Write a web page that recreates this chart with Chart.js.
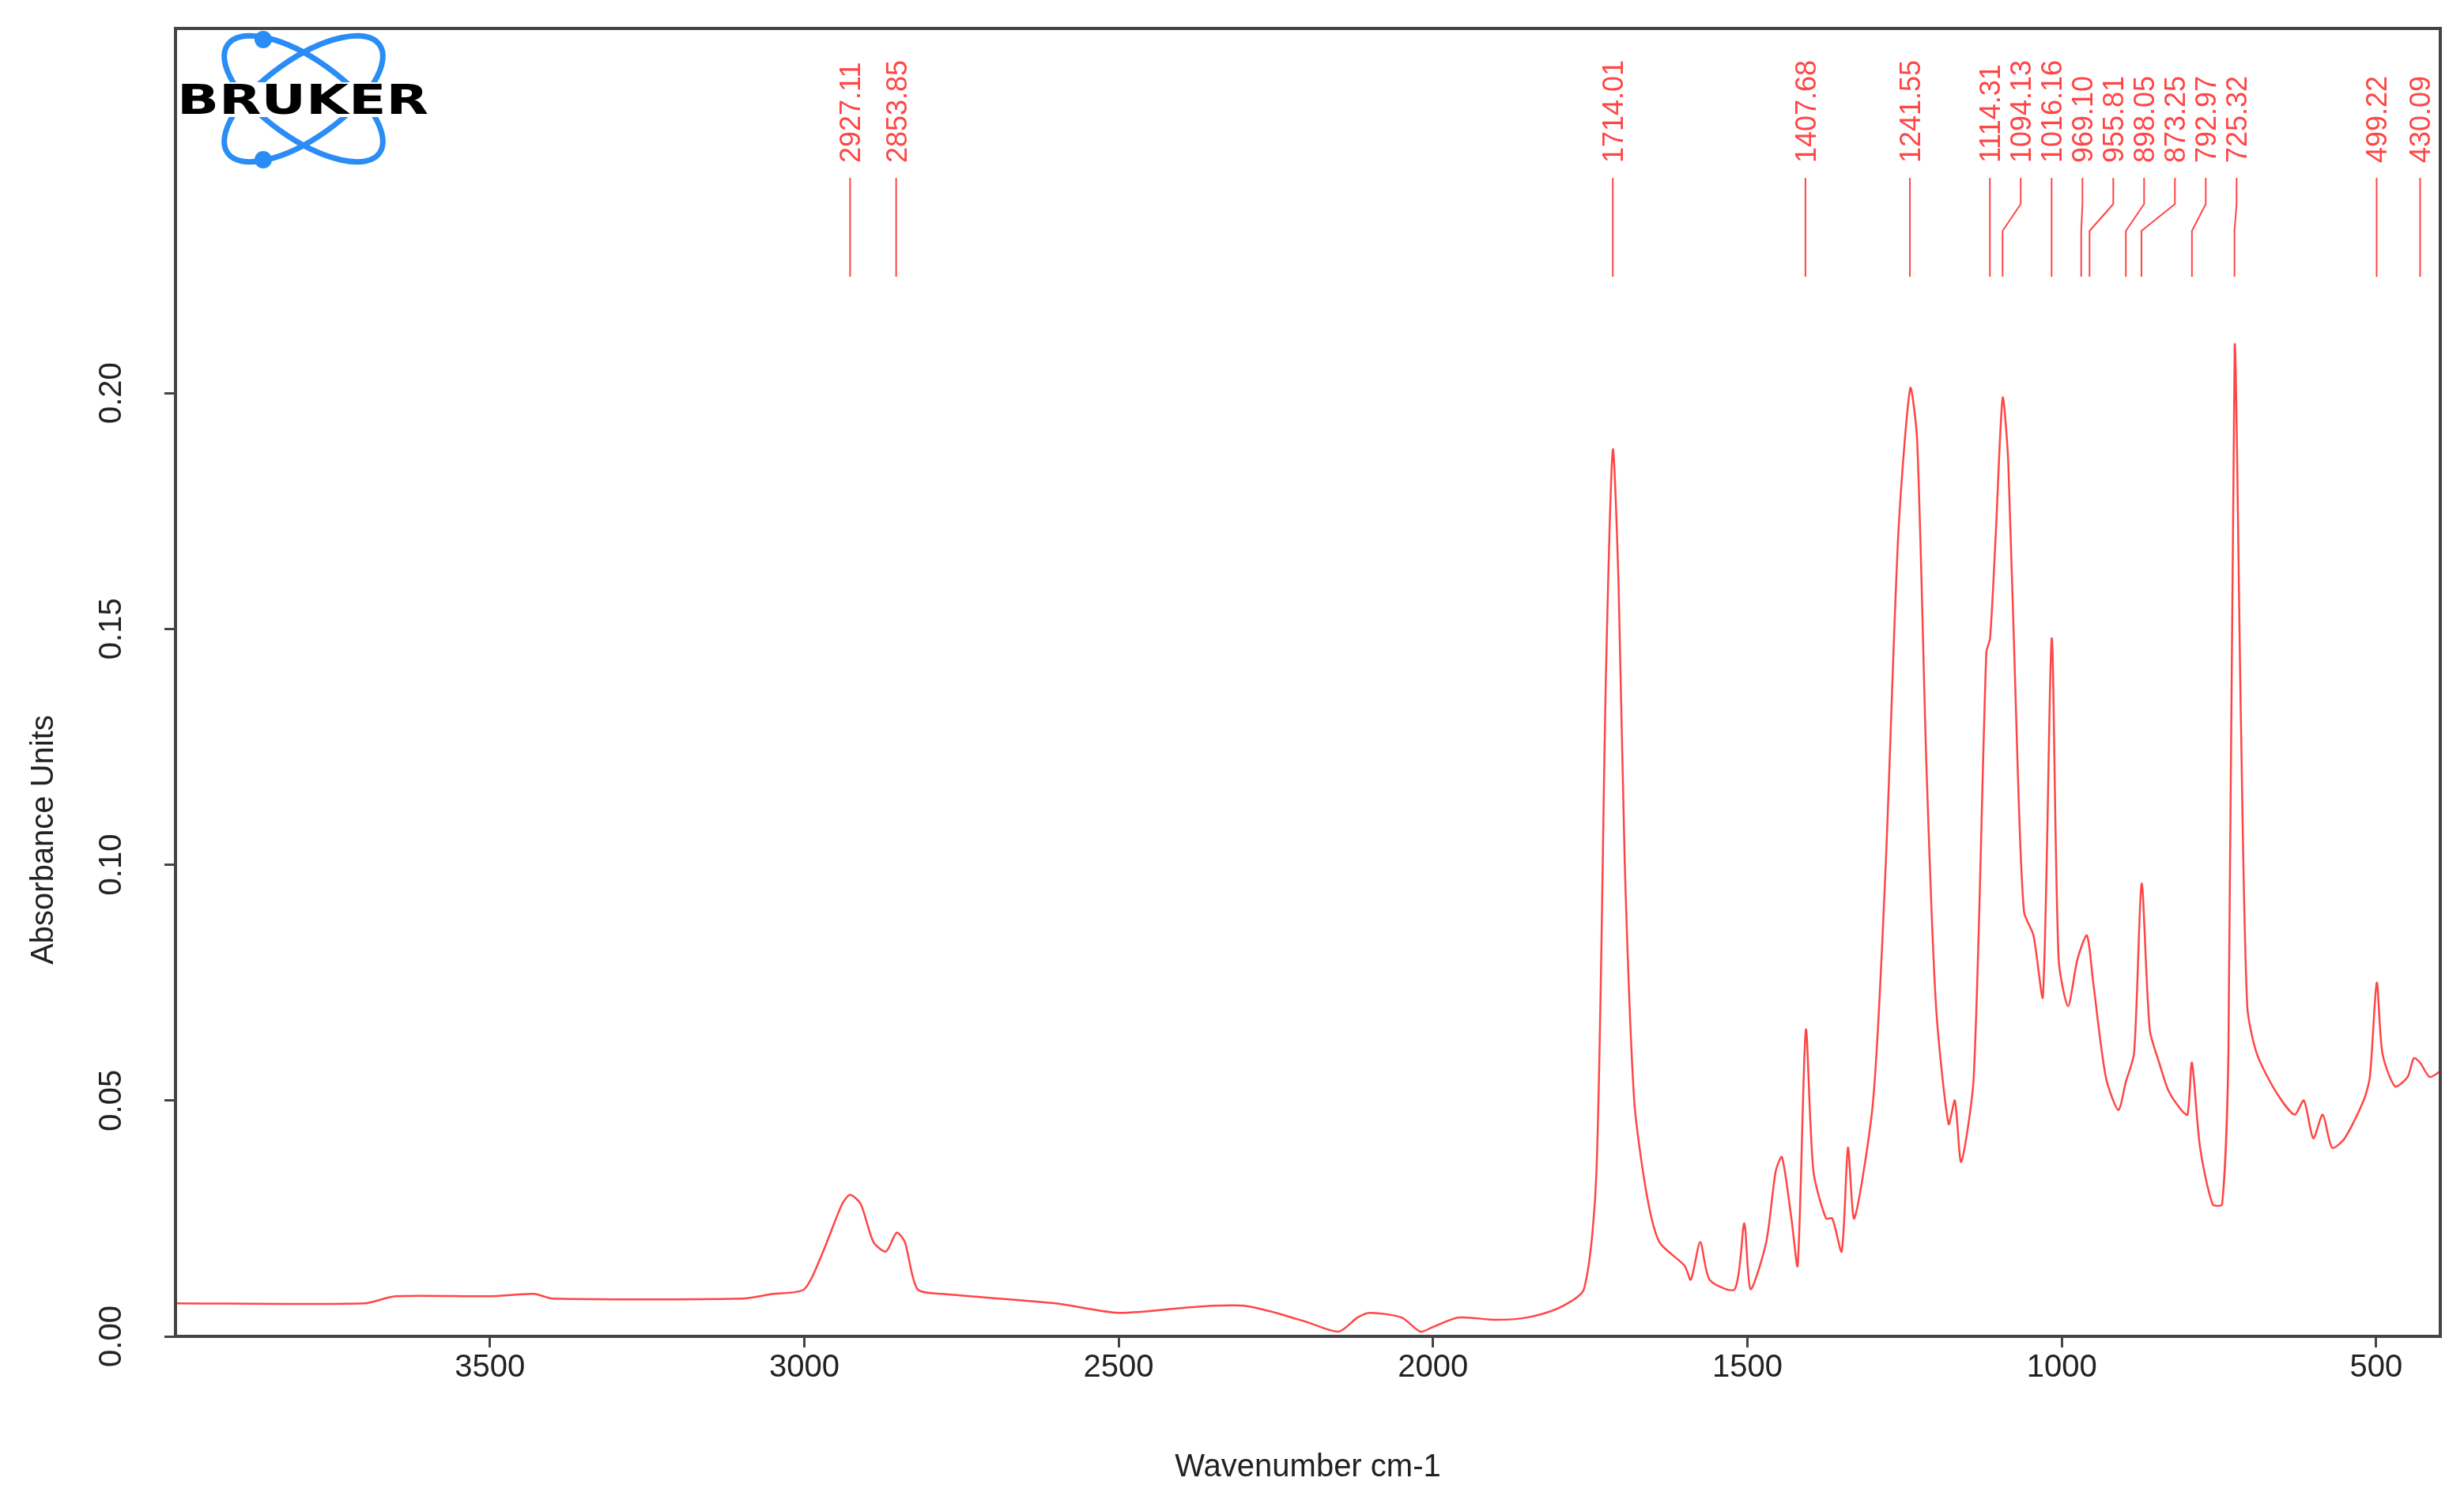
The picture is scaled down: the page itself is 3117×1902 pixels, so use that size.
<!DOCTYPE html>
<html>
<head>
<meta charset="utf-8">
<script src="https://cdn.jsdelivr.net/npm/chart.js@4.4.1/dist/chart.umd.min.js"></script>
<style>
html, body { margin: 0; padding: 0; background: #fff; }
#wrap { width: 3117px; height: 1902px; }
</style>
</head>
<body>
<div id="wrap"><canvas id="ir" width="3117" height="1902"></canvas></div>
<script>
// spectrum (wavenumber, absorbance)
const wavenumbers = [4000,3700,3650,3500,3430,3400,3100,3050,3000,2970,2940,2927,2910,2890,2870,2853,2840,2820,2780,2600,2500,2400,2350,2300,2250,2200,2150,2120,2100,2050,2020,2000,1960,1900,1850,1800,1760,1740,1725,1714,1705,1695,1680,1660,1640,1600,1590,1575,1560,1520,1505,1495,1470,1455,1445,1430,1420,1407,1395,1375,1365,1350,1340,1330,1300,1280,1260,1241,1230,1215,1200,1180,1170,1160,1140,1120,1114,1105,1094,1085,1070,1060,1045,1030,1016,1005,990,975,960,950,930,910,898,885,873,860,845,830,810,800,793,780,760,745,735,725,715,705,690,660,630,615,600,585,570,550,520,510,499,490,470,450,440,430,415,400];
const absorbance = [0.007,0.007,0.0085,0.0085,0.009,0.008,0.008,0.009,0.010,0.018,0.028,0.030,0.028,0.020,0.018,0.022,0.020,0.010,0.009,0.007,0.005,0.006,0.0065,0.0065,0.005,0.003,0.001,0.004,0.005,0.004,0.001,0.002,0.004,0.0035,0.004,0.006,0.010,0.035,0.14,0.188,0.16,0.10,0.05,0.03,0.020,0.015,0.012,0.020,0.012,0.010,0.024,0.010,0.020,0.035,0.038,0.025,0.015,0.065,0.035,0.025,0.025,0.018,0.040,0.025,0.050,0.10,0.17,0.201,0.19,0.12,0.07,0.045,0.050,0.037,0.055,0.145,0.148,0.17,0.199,0.185,0.12,0.09,0.085,0.072,0.148,0.08,0.070,0.08,0.085,0.075,0.055,0.048,0.054,0.060,0.096,0.065,0.058,0.052,0.048,0.047,0.058,0.040,0.028,0.028,0.06,0.21,0.13,0.07,0.060,0.052,0.047,0.050,0.042,0.047,0.040,0.042,0.050,0.055,0.075,0.060,0.053,0.055,0.059,0.058,0.055,0.056];
const peakLabels = ['2927.11','2853.85','1714.01','1407.68','1241.55','1114.31','1094.13','1016.16','969.10','955.81','898.05','873.25','792.97','725.32','499.22','430.09'];
const xTicks = [500,1000,1500,2000,2500,3000,3500];
const yTicks = [0, 0.05, 0.10, 0.15, 0.20];

const RED = 'rgb(255,70,70)';
const AX_FONT = { family: 'Liberation Sans', size: 40 };

const points = wavenumbers.map((w, i) => ({ x: w, y: absorbance[i] }));

const extras = {
  id: 'extras',
  afterDraw(chart) {
    const c = chart.ctx, a = chart.chartArea, xs = chart.scales.x, ys = chart.scales.y;
    c.save();
    // frame
    c.strokeStyle = '#444'; c.lineWidth = 4;
    c.strokeRect(a.left, a.top, a.right - a.left, a.bottom - a.top);
    // y tick labels and title, reading upward
    c.fillStyle = '#222';
    c.font = '40px "Liberation Sans"';
    c.textAlign = 'center';
    c.textBaseline = 'middle';
    yTicks.forEach(v => {
      c.save();
      c.translate(142, ys.getPixelForValue(v));
      c.rotate(-Math.PI / 2);
      c.fillText(v.toFixed(2), 0, 0);
      c.restore();
    });
    c.save();
    c.translate(56, 1062);
    c.rotate(-Math.PI / 2);
    c.fillText('Absorbance Units', 0, 0);
    c.restore();
    // peak markers
    const min = 39;
    let prev = -1e9;
    const marks = peakLabels.map(p => {
      const px = xs.getPixelForValue(parseFloat(p));
      let lx = Math.max(px, prev + min);
      prev = lx;
      return { p, px, lx };
    });
    c.strokeStyle = RED; c.lineWidth = 2; c.fillStyle = RED;
    c.font = '36px "Liberation Sans"';
    c.textBaseline = 'alphabetic';
    marks.forEach(m => {
      c.beginPath();
      c.moveTo(m.lx, 225); c.lineTo(m.lx, 258);
      c.lineTo(m.px, 292); c.lineTo(m.px, 350);
      c.stroke();
      c.save();
      c.translate(m.lx + 13, 206);
      c.rotate(-Math.PI / 2);
      c.textAlign = 'left';
      c.fillText(m.p, 0, 0);
      c.restore();
    });
    // logo
    const cx = 384, cy = 125;
    c.strokeStyle = '#2a8cf5'; c.lineWidth = 7;
    [0.62, -0.62].forEach(r => {
      c.beginPath();
      c.ellipse(cx, cy, 118, 50, r, 0, Math.PI * 2);
      c.stroke();
    });
    c.fillStyle = '#2a8cf5';
    [[333, 50], [333, 202]].forEach(d => {
      c.beginPath(); c.arc(d[0], d[1], 11, 0, Math.PI * 2); c.fill();
    });
    c.font = 'bold 52px "DejaVu Sans"';
    const tw = c.measureText('BRUKER').width;
    c.fillStyle = '#fff';
    c.fillRect(224, 104, 316, 44);
    c.fillStyle = '#000';
    c.save();
    c.translate(224, 144);
    c.scale(318 / tw, 1);
    c.textAlign = 'left';
    c.fillText('BRUKER', 0, 0);
    c.restore();
    c.restore();
  }
};

new Chart(document.getElementById('ir'), {
  type: 'line',
  data: {
    datasets: [{
      data: points,
      borderColor: RED,
      borderWidth: 2.5,
      pointRadius: 0,
      tension: 0.25,
      fill: false
    }]
  },
  options: {
    responsive: false,
    animation: false,
    layout: { padding: { top: 36, right: 30, left: 0, bottom: 0 } },
    plugins: { legend: { display: false }, tooltip: { enabled: false } },
    scales: {
      x: {
        type: 'linear',
        reverse: true,
        min: 398,
        max: 4000,
        afterFit(s) { s.height = 212; },
        afterBuildTicks(s) { s.ticks = xTicks.map(v => ({ value: v })); },
        ticks: { color: '#222', font: AX_FONT, padding: 2, maxRotation: 0, callback: v => String(v) },
        grid: { drawOnChartArea: false, drawTicks: true, tickLength: 14, color: '#444', lineWidth: 3 },
        border: { display: false },
        title: { display: true, text: 'Wavenumber cm-1', color: '#222', font: AX_FONT, padding: { top: 8, bottom: 22 } }
      },
      y: {
        min: 0,
        max: 0.2773,
        afterFit(s) { s.width = 222; },
        afterBuildTicks(s) { s.ticks = yTicks.map(v => ({ value: v })); },
        ticks: { display: false },
        grid: { drawOnChartArea: false, drawTicks: true, tickLength: 14, color: '#444', lineWidth: 3 },
        border: { display: false },
        title: { display: false }
      }
    }
  },
  plugins: [extras]
});
</script>
</body>
</html>
